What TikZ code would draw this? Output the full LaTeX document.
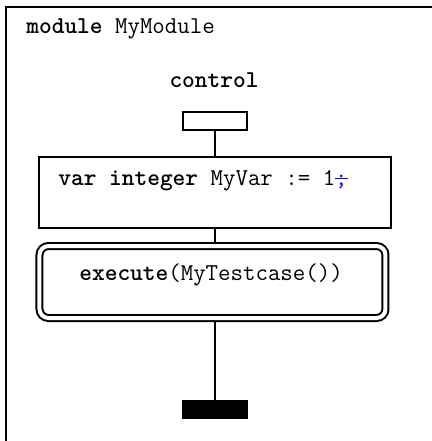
\documentclass[tikz,border=0pt]{standalone}
\usepackage{fontspec}
\definecolor{tcBlack}{HTML}{000000}
\definecolor{tcBlue}{HTML}{0000FF}
\newcommand{\tcdeleted}[1]{{\color{tcBlue}\rlap{#1}\rule[0.25em]{0.525em}{0.45pt}}}
\tikzset{
  tc frame/.style={draw=tcBlack, line width=1pt},
  tc line/.style={draw=tcBlack, line width=1pt},
  tc box/.style={rectangle, draw=tcBlack, line width=1pt, inner sep=0pt},
  tc stop/.style={rectangle, fill=tcBlack, inner sep=0pt, minimum width=33pt, minimum height=9.5pt},
  tc exec/.style={rectangle, draw=tcBlack, line width=1pt, double, double distance=2pt, rounded corners=4.5pt, outer sep=1.5pt, inner sep=0pt},
  tc text/.style={font=\ttfamily\fontsize{12.1}{14}\selectfont, text=tcBlack, inner sep=0pt},
}

\begin{document}
\begin{tikzpicture}[x=0.5pt, y=-0.5pt]
  \useasboundingbox (0,0) rectangle (432,441);
  % module frame, cut off at right and bottom
  \draw[tc frame] (432,7) -- (6.5,7) -- (6.5,441);
  \node[tc text, anchor=base west] (modname) at (26,33) {\textbf{module} MyModule};

  % control part
  \node[tc text, anchor=base] (ctrl) at (214,87) {\textbf{control}};
  \node[tc box, minimum width=32pt, minimum height=9pt] (start) at (215,121) {};
  \node[tc box, minimum width=176pt, minimum height=35.5pt] (varbox) at (215,192.5) {};
  \node[tc text, anchor=base west] (vartext) at (58,185) {\textbf{var integer} MyVar := 1\tcdeleted{;}};
  \node[tc exec, minimum width=173pt, minimum height=36pt] (exec) at (212.5,282) {};
  \node[tc text, anchor=base west] (exectext) at (79,280) {\textbf{execute}(MyTestcase())};
  \node[tc stop] (stop) at (215,409.5) {};

  % flow lines
  \draw[tc line] (start) -- (varbox.north -| start);
  \draw[tc line] (varbox.south -| start) -- (exec.north -| start);
  \draw[tc line] (exec.south -| start) -- (stop);
\end{tikzpicture}
\end{document}
